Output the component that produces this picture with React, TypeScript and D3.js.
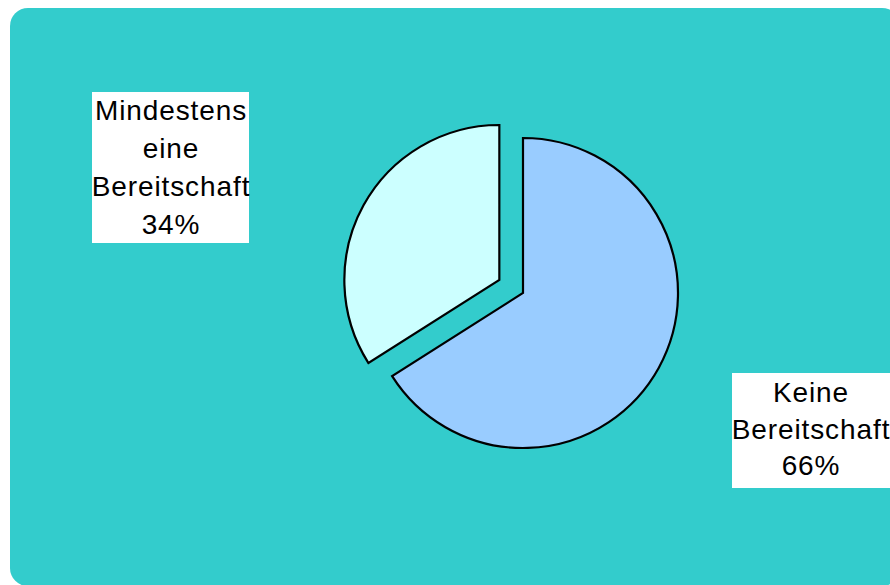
import React from "react";
import * as d3 from "d3";

const categories = ["Keine Bereitschaft", "Mindestens eine Bereitschaft"];
const values = [66, 34];
const labelLines = [
  ["Keine", "Bereitschaft", "66%"],
  ["Mindestens", "eine", "Bereitschaft", "34%"],
];
const sliceColors = ["#99CCFF", "#CCFFFF"];
const explode = [0, 27];

const W = 890;
const H = 585;
const cx = 523;
const cy = 293;
const R = 155;

const boxes = [
  { x: 732, y: 373, w: 160, h: 115, tx: 811, b0: 402, step: 36.5 },
  { x: 92, y: 92, w: 157, h: 151, tx: 171, b0: 120, step: 38 },
];

export default function App() {
  const pie = d3
    .pie<number>()
    .sort(null)
    .value((d) => d)
    .startAngle(0)
    .endAngle(2 * Math.PI);
  const arcs = pie(values);
  const arc = d3.arc<d3.PieArcDatum<number>>().innerRadius(0).outerRadius(R);

  return (
    <svg
      width={W}
      height={H}
      style={{ position: "absolute", left: 0, top: 0 }}
      fontFamily="'Liberation Sans', Arial, sans-serif"
    >
      <rect x={0} y={0} width={W} height={H} fill="#ffffff" />
      <rect x={10} y={8} width={890} height={578} rx={18} ry={18} fill="#33CCCC" />
      <g transform={`translate(${cx},${cy})`}>
        {arcs.map((a, i) => {
          const mid = (a.startAngle + a.endAngle) / 2;
          const dx = Math.sin(mid) * explode[i];
          const dy = -Math.cos(mid) * explode[i];
          return (
            <path
              key={categories[i]}
              d={arc(a) || ""}
              transform={`translate(${dx},${dy})`}
              fill={sliceColors[i]}
              stroke="#000"
              strokeWidth={2.2}
              strokeLinejoin="miter"
            />
          );
        })}
      </g>
      {boxes.map((b, i) => (
        <g key={i}>
          <rect x={b.x} y={b.y} width={b.w} height={b.h} fill="#ffffff" />
          {labelLines[i].map((t, j) => (
            <text
              key={j}
              x={b.tx}
              y={b.b0 + j * b.step}
              textAnchor="middle"
              fontSize={28}
              letterSpacing={0.9}
              fill="#000"
            >
              {t}
            </text>
          ))}
        </g>
      ))}
    </svg>
  );
}
